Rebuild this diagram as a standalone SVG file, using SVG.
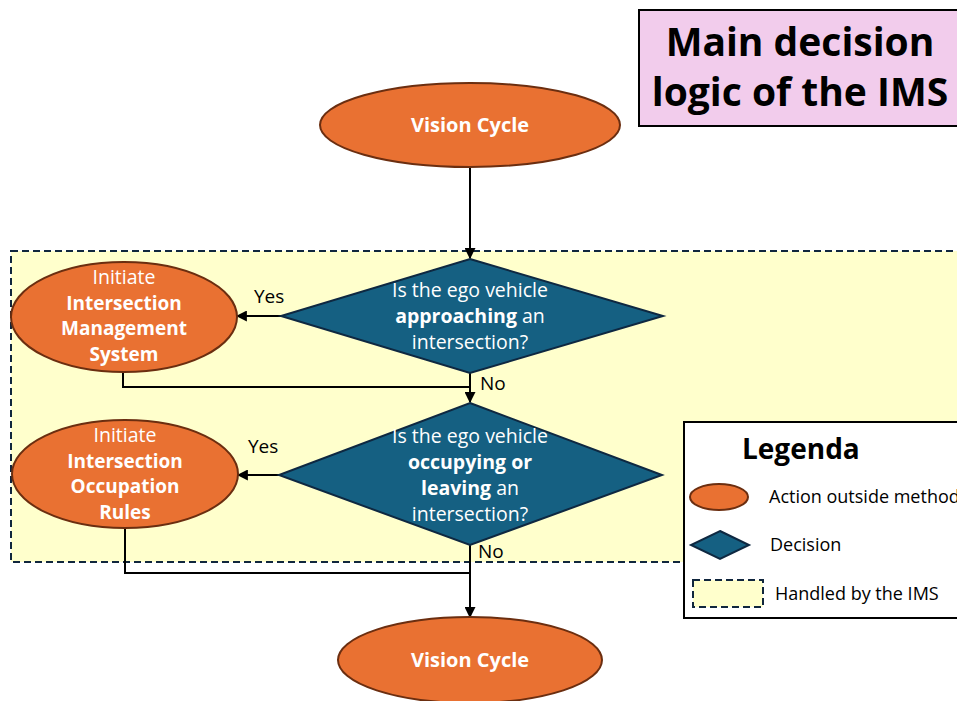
<svg xmlns="http://www.w3.org/2000/svg" width="957" height="701" viewBox="0 0 957 701">
  <defs>
    <marker id="arrow" viewBox="0 0 10 10" refX="9" refY="5" markerWidth="5.5" markerHeight="5.5" orient="auto" markerUnits="strokeWidth">
      <path d="M0,0 L10,5 L0,10 z" fill="#000"/>
    </marker>
  </defs>
  <style>
    text { font-family: "Open Sans", "Noto Sans", "Liberation Sans", sans-serif; }
    .action { fill: #E97132; stroke: #6B2E10; stroke-width: 2; }
    .decision { fill: #156082; stroke: #0E2841; stroke-width: 2; }
    .ims { fill: #FFFFCC; stroke: #10263D; stroke-width: 2; stroke-dasharray: 7 4; }
    .wt { fill: #fff; font-size: 19.5px; text-anchor: middle; }
    .b { font-weight: bold; }
    .eb { font-size: 19px; }
    .vc { font-size: 20px; }
    .lbl { fill: #000; font-size: 19px; }
    .leg { fill: #000; font-size: 18px; }
  </style>

  <rect width="957" height="701" fill="#fff"/>

  <!-- region handled by the IMS -->
  <rect id="ims-region" class="ims" x="11" y="251" width="960" height="311"/>

  <!-- title -->
  <g id="title">
    <rect x="639" y="10" width="330" height="116" fill="#F2CCEC" stroke="#000" stroke-width="2"/>
    <text x="800" y="56" font-size="39" font-weight="bold" text-anchor="middle" fill="#000">Main decision</text>
    <text x="800" y="106" font-size="39" font-weight="bold" text-anchor="middle" fill="#000">logic of the IMS</text>
  </g>

  <!-- connectors -->
  <g id="connectors" fill="none" stroke="#000" stroke-width="2">
    <line x1="470" y1="168" x2="470" y2="258" marker-end="url(#arrow)"/>
    <line x1="281" y1="316" x2="237" y2="316" marker-end="url(#arrow)"/>
    <polyline points="123,372 123,387 470,387"/>
    <line x1="470" y1="373" x2="470" y2="402" marker-end="url(#arrow)"/>
    <line x1="279" y1="475" x2="238" y2="475" marker-end="url(#arrow)"/>
    <polyline points="125,528 125,573 470,573"/>
    <line x1="470" y1="545" x2="470" y2="617" marker-end="url(#arrow)"/>
  </g>
  <g id="connector-labels">
    <text class="lbl" x="254" y="303">Yes</text>
    <text class="lbl" x="480" y="390">No</text>
    <text class="lbl" x="248" y="453">Yes</text>
    <text class="lbl" x="478" y="558">No</text>
  </g>

  <g id="vision-cycle-start">
    <ellipse class="action" cx="470" cy="125" rx="150" ry="42"/>
    <text class="wt b vc" x="470" y="132">Vision Cycle</text>
  </g>

  <g id="decision-approaching">
    <polygon class="decision" points="470,259 663,316 470,373 281,316"/>
    <text class="wt" x="470" y="297">Is the ego vehicle</text>
    <text class="wt" x="470" y="323"><tspan class="b">approaching</tspan> an</text>
    <text class="wt" x="470" y="349">intersection?</text>
  </g>

  <g id="initiate-ims">
    <ellipse class="action" cx="124" cy="317" rx="113" ry="55"/>
    <text class="wt" x="124" y="284">Initiate</text>
    <text class="wt b eb" x="124" y="310">Intersection</text>
    <text class="wt b eb" x="124" y="335">Management</text>
    <text class="wt b eb" x="124" y="361">System</text>
  </g>

  <g id="decision-occupying">
    <polygon class="decision" points="470,403 662,475 470,545 279,475"/>
    <text class="wt" x="470" y="443">Is the ego vehicle</text>
    <text class="wt b" x="470" y="469">occupying or</text>
    <text class="wt" x="470" y="495"><tspan class="b">leaving</tspan> an</text>
    <text class="wt" x="470" y="521">intersection?</text>
  </g>

  <g id="initiate-occupation-rules">
    <ellipse class="action" cx="125" cy="474" rx="113" ry="54"/>
    <text class="wt" x="125" y="442">Initiate</text>
    <text class="wt b eb" x="125" y="468">Intersection</text>
    <text class="wt b eb" x="125" y="493">Occupation</text>
    <text class="wt b eb" x="125" y="519">Rules</text>
  </g>

  <g id="vision-cycle-end">
    <ellipse class="action" cx="470" cy="660" rx="132" ry="43"/>
    <text class="wt b vc" x="470" y="667">Vision Cycle</text>
  </g>

  <!-- legend -->
  <g id="legend">
    <rect x="684" y="422" width="290" height="196" fill="#fff" stroke="#000" stroke-width="2"/>
    <text x="742" y="459" font-size="28" font-weight="bold" fill="#000">Legenda</text>
    <ellipse class="action" cx="719" cy="497" rx="29" ry="13"/>
    <text class="leg" x="769" y="503">Action outside method</text>
    <polygon class="decision" points="720,531 749,545 720,559 691,545"/>
    <text class="leg" x="770" y="551">Decision</text>
    <rect class="ims" x="693" y="580" width="70" height="27"/>
    <text class="leg" x="775" y="600">Handled by the IMS</text>
  </g>
</svg>
